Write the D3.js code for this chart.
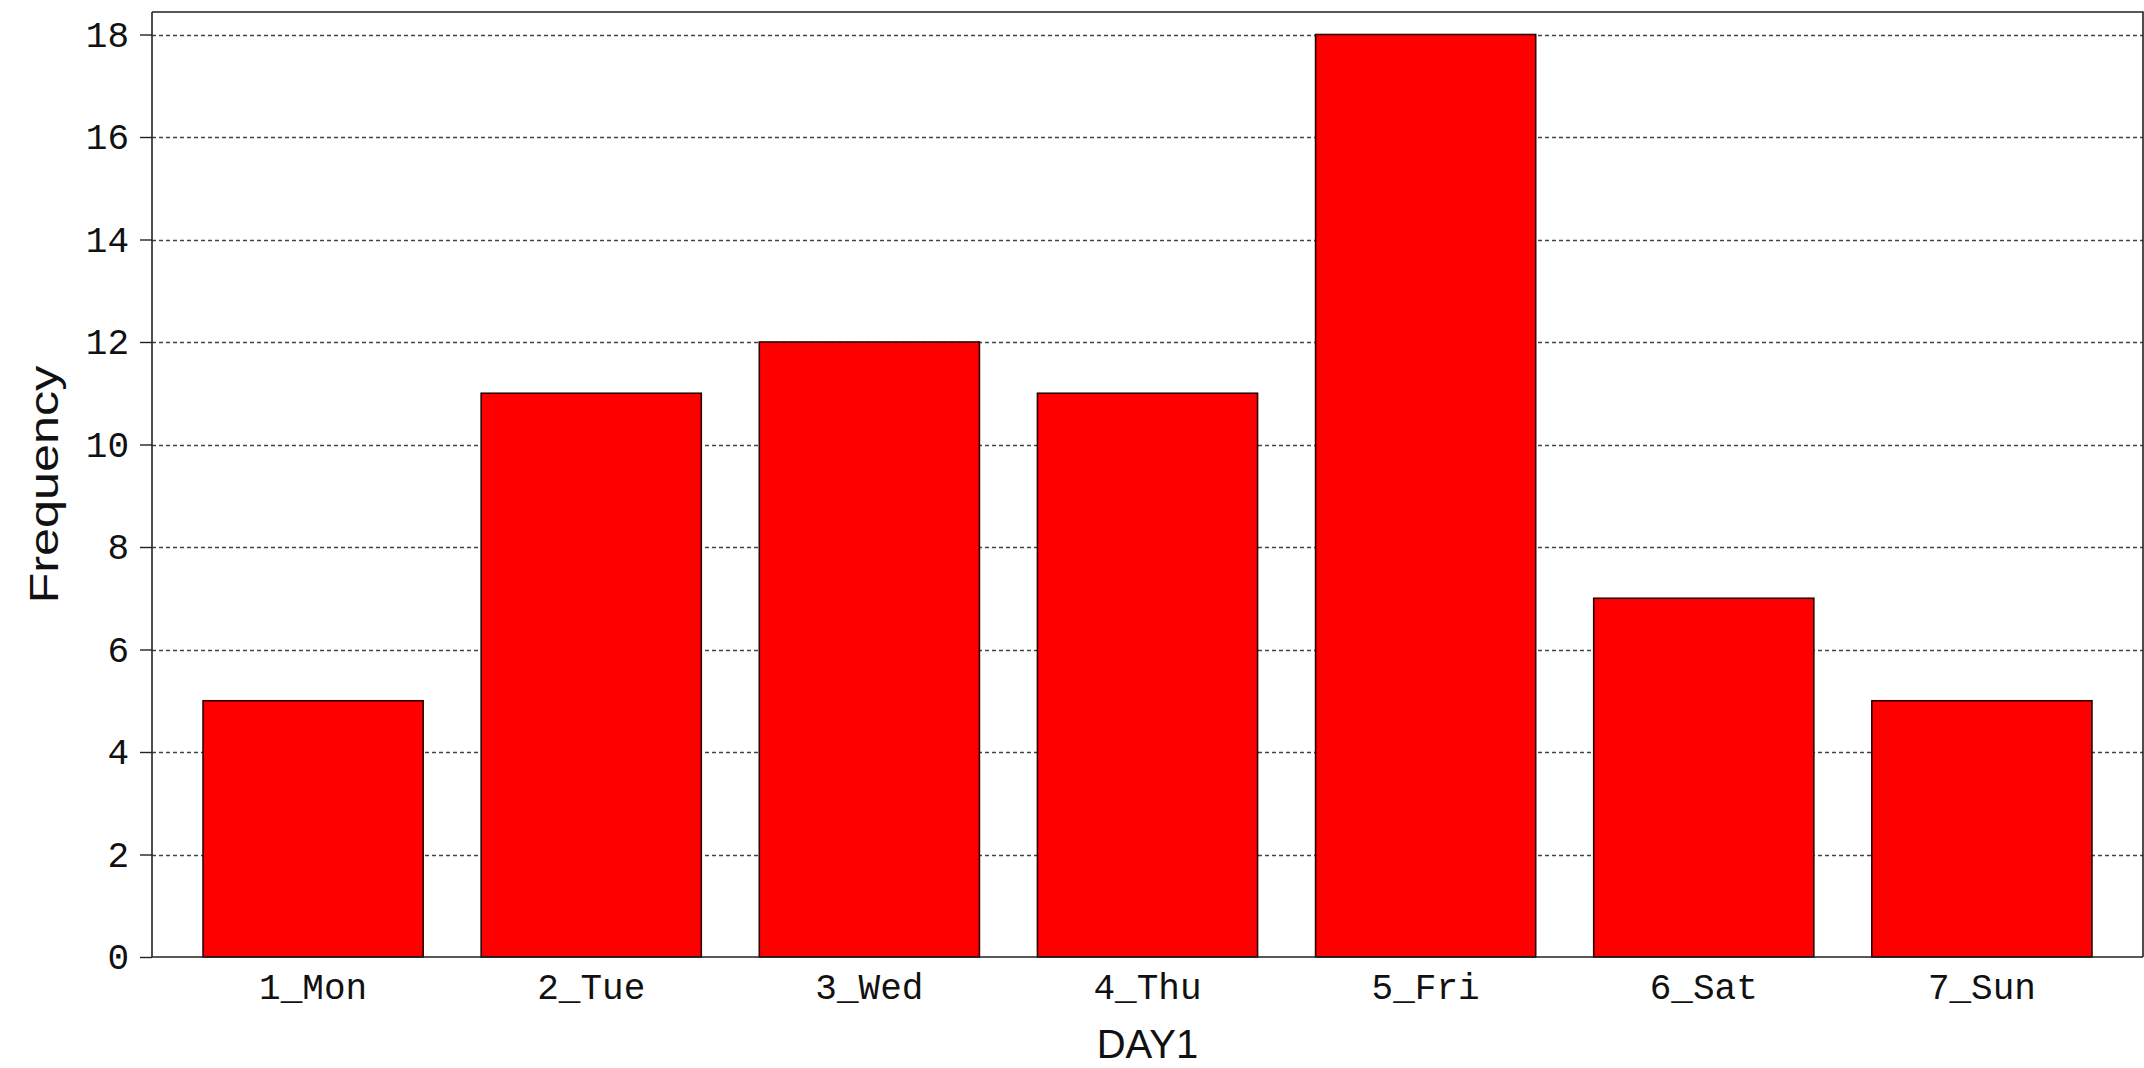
<!DOCTYPE html>
<html>
<head>
<meta charset="utf-8">
<script src="https://cdn.jsdelivr.net/npm/d3@7"></script>
<style>
  html, body { margin: 0; padding: 0; background: #fff; }
  svg { display: block; }
</style>
</head>
<body>
<svg id="chart" width="2144" height="1068"></svg>
<script>
// Frequency of records by day of week
const categories = ["1_Mon", "2_Tue", "3_Wed", "4_Thu", "5_Fri", "6_Sat", "7_Sun"];
const frequencies = [5, 11, 12, 11, 18, 7, 5];
const yTicks = [0, 2, 4, 6, 8, 10, 12, 14, 16, 18];
const xTitle = "DAY1";
const yTitle = "Frequency";

const W = 2144, H = 1068;
const plot = { left: 152, right: 2143, top: 12, bottom: 957 };
const monoFont = "'Liberation Mono', 'Cousine', monospace";
const sansFont = "'Liberation Sans', Arial, sans-serif";

const svg = d3.select("#chart");

const x = d3.scaleBand()
  .domain(categories)
  .range([plot.left, plot.right])
  .paddingInner(0.2086)
  .paddingOuter(0.1835);

const y = d3.scaleLinear()
  .domain([0, 18])
  .range([plot.bottom, 34.5]);

// dashed horizontal grid lines
svg.append("g")
  .selectAll("line")
  .data(yTicks.filter(d => d > 0))
  .join("line")
  .attr("x1", plot.left)
  .attr("x2", plot.right)
  .attr("y1", d => Math.round(y(d)) + 0.5)
  .attr("y2", d => Math.round(y(d)) + 0.5)
  .attr("stroke", "#444")
  .attr("stroke-width", 1.4)
  .attr("stroke-dasharray", "4,3");

// bars
svg.append("g")
  .selectAll("rect")
  .data(categories.map((c, i) => ({ c, v: frequencies[i] })))
  .join("rect")
  .attr("x", d => x(d.c))
  .attr("y", d => y(d.v))
  .attr("width", x.bandwidth())
  .attr("height", d => y(0) - y(d.v))
  .attr("fill", "#ff0000")
  .attr("stroke", "#2a0000")
  .attr("stroke-width", 1.6);

// plot frame (top and right)
svg.append("path")
  .attr("d", `M${plot.left},${plot.top}H${plot.right}V${plot.bottom}`)
  .attr("fill", "none")
  .attr("stroke", "#222")
  .attr("stroke-width", 1.6);

// y axis
const yAxis = d3.axisLeft(y)
  .tickValues(yTicks)
  .tickSize(12)
  .tickPadding(11)
  .tickFormat(d3.format("d"));

const gy = svg.append("g")
  .attr("transform", `translate(${plot.left},0)`)
  .call(yAxis);
gy.select(".domain")
  .attr("d", `M0,${plot.top}V${plot.bottom}`)
  .attr("stroke", "#222")
  .attr("stroke-width", 1.6);
gy.selectAll(".tick line").attr("stroke", "#222").attr("stroke-width", 1.4);
gy.selectAll(".tick text")
  .attr("font-family", monoFont)
  .attr("font-size", 36)
  .attr("fill", "#111");

// x axis
const xAxis = d3.axisBottom(x).tickSize(0).tickPadding(16);
const gx = svg.append("g")
  .attr("transform", `translate(0,${plot.bottom})`)
  .call(xAxis);
gx.select(".domain")
  .attr("d", `M${plot.left},0H${plot.right}`)
  .attr("stroke", "#222")
  .attr("stroke-width", 1.6);
gx.selectAll(".tick text")
  .attr("font-family", monoFont)
  .attr("font-size", 36)
  .attr("fill", "#111");

// axis titles
svg.append("text")
  .attr("x", (plot.left + plot.right) / 2)
  .attr("y", 1058)
  .attr("text-anchor", "middle")
  .attr("font-family", sansFont)
  .attr("font-size", 40)
  .attr("fill", "#111")
  .text(xTitle);

svg.append("text")
  .attr("transform", `translate(58,${(plot.top + plot.bottom) / 2}) rotate(-90)`)
  .attr("text-anchor", "middle")
  .attr("font-family", sansFont)
  .attr("font-size", 41)
  .attr("textLength", 238)
  .attr("lengthAdjust", "spacingAndGlyphs")
  .attr("fill", "#111")
  .text(yTitle);
</script>
</body>
</html>
